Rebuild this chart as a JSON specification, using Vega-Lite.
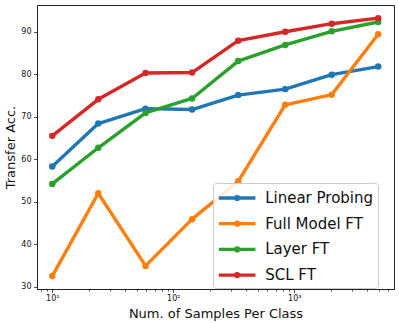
{
  "$schema": "https://vega.github.io/schema/vega-lite/v6.json",
  "width": 357,
  "height": 284,
  "autosize": "none",
  "padding": {"left": 37, "top": 5, "right": 5, "bottom": 34},
  "background": "white",
  "config": {
    "font": "DejaVu Sans",
    "view": {"stroke": "#222", "strokeWidth": 1},
    "axis": {
      "labelFont": "DejaVu Sans", "labelFontSize": 8, "labelColor": "#111",
      "titleFont": "DejaVu Sans", "titleFontSize": 13, "titleFontWeight": "normal", "titleColor": "#111",
      "tickColor": "#222", "domainColor": "#222", "domainWidth": 1, "tickWidth": 0.8, "grid": false
    }
  },
  "data": {
    "values": [
      {"method": "Linear Probing", "n": 10, "acc": 58.3},
      {"method": "Linear Probing", "n": 24, "acc": 68.4},
      {"method": "Linear Probing", "n": 59, "acc": 71.9},
      {"method": "Linear Probing", "n": 143, "acc": 71.7},
      {"method": "Linear Probing", "n": 344, "acc": 75.1},
      {"method": "Linear Probing", "n": 841, "acc": 76.5},
      {"method": "Linear Probing", "n": 2040, "acc": 79.9},
      {"method": "Linear Probing", "n": 4940, "acc": 81.8},
      {"method": "Full Model FT", "n": 10, "acc": 32.5},
      {"method": "Full Model FT", "n": 24, "acc": 52.0},
      {"method": "Full Model FT", "n": 59, "acc": 34.9},
      {"method": "Full Model FT", "n": 143, "acc": 45.9},
      {"method": "Full Model FT", "n": 344, "acc": 54.8},
      {"method": "Full Model FT", "n": 841, "acc": 72.8},
      {"method": "Full Model FT", "n": 2040, "acc": 75.2},
      {"method": "Full Model FT", "n": 4940, "acc": 89.4},
      {"method": "Layer FT", "n": 10, "acc": 54.2},
      {"method": "Layer FT", "n": 24, "acc": 62.7},
      {"method": "Layer FT", "n": 59, "acc": 70.9},
      {"method": "Layer FT", "n": 143, "acc": 74.3},
      {"method": "Layer FT", "n": 344, "acc": 83.1},
      {"method": "Layer FT", "n": 841, "acc": 86.9},
      {"method": "Layer FT", "n": 2040, "acc": 90.1},
      {"method": "Layer FT", "n": 4940, "acc": 92.3},
      {"method": "SCL FT", "n": 10, "acc": 65.5},
      {"method": "SCL FT", "n": 24, "acc": 74.1},
      {"method": "SCL FT", "n": 59, "acc": 80.3},
      {"method": "SCL FT", "n": 143, "acc": 80.4},
      {"method": "SCL FT", "n": 344, "acc": 87.9},
      {"method": "SCL FT", "n": 841, "acc": 90.0},
      {"method": "SCL FT", "n": 2040, "acc": 91.9},
      {"method": "SCL FT", "n": 4940, "acc": 93.2}
    ]
  },
  "mark": {"type": "line", "strokeWidth": 3.4, "strokeJoin": "round", "point": {"filled": true, "size": 42, "opacity": 1}},
  "encoding": {
    "x": {
      "field": "n", "type": "quantitative",
      "scale": {"type": "log", "domain": [7.48, 6670], "nice": false},
      "axis": {
        "title": "Num. of Samples Per Class",
        "values": [8, 9, 10, 20, 30, 40, 50, 60, 70, 80, 90, 100, 200, 300, 400, 500, 600, 700, 800, 900, 1000, 2000, 3000, 4000, 5000, 6000],
        "labelExpr": "datum.value == 10 ? '10¹' : datum.value == 100 ? '10²' : datum.value == 1000 ? '10³' : ''",
        "tickSize": {"condition": {"test": "datum.value == 10 || datum.value == 100 || datum.value == 1000", "value": 3.5}, "value": 2},
        "labelOverlap": false, "labelFlush": false, "labelPadding": 2, "titlePadding": 5
      }
    },
    "y": {
      "field": "acc", "type": "quantitative",
      "scale": {"domain": [29.46, 96.3], "nice": false, "zero": false},
      "axis": {"title": "Transfer Acc.", "values": [30, 40, 50, 60, 70, 80, 90], "tickSize": 3.5, "labelPadding": 2.5, "titlePadding": 3}
    },
    "color": {
      "field": "method", "type": "nominal",
      "scale": {"domain": ["Linear Probing", "Full Model FT", "Layer FT", "SCL FT"], "range": ["#1f77b4", "#ff7f0e", "#2ca02c", "#d62728"]},
      "legend": {
        "title": null, "orient": "none", "legendX": 176, "legendY": 178,
        "fillColor": "rgba(255,255,255,0.85)", "strokeColor": "#cccccc", "cornerRadius": 3, "padding": 4,
        "labelFont": "DejaVu Sans", "labelFontSize": 15, "labelColor": "#111", "labelOffset": 17,
        "symbolType": "M-2,0L2,0M0.16,0A0.16,0.16,0,1,1,-0.16,0A0.16,0.16,0,1,1,0.16,0Z",
        "symbolSize": 335, "symbolOffset": 9.15, "symbolStrokeWidth": 3.3, "rowPadding": 5.7,
        "encode": {"symbols": {"update": {"fill": {"scale": "color", "field": "value"}, "stroke": {"scale": "color", "field": "value"}, "opacity": {"value": 1}}}}
      }
    }
  }
}
